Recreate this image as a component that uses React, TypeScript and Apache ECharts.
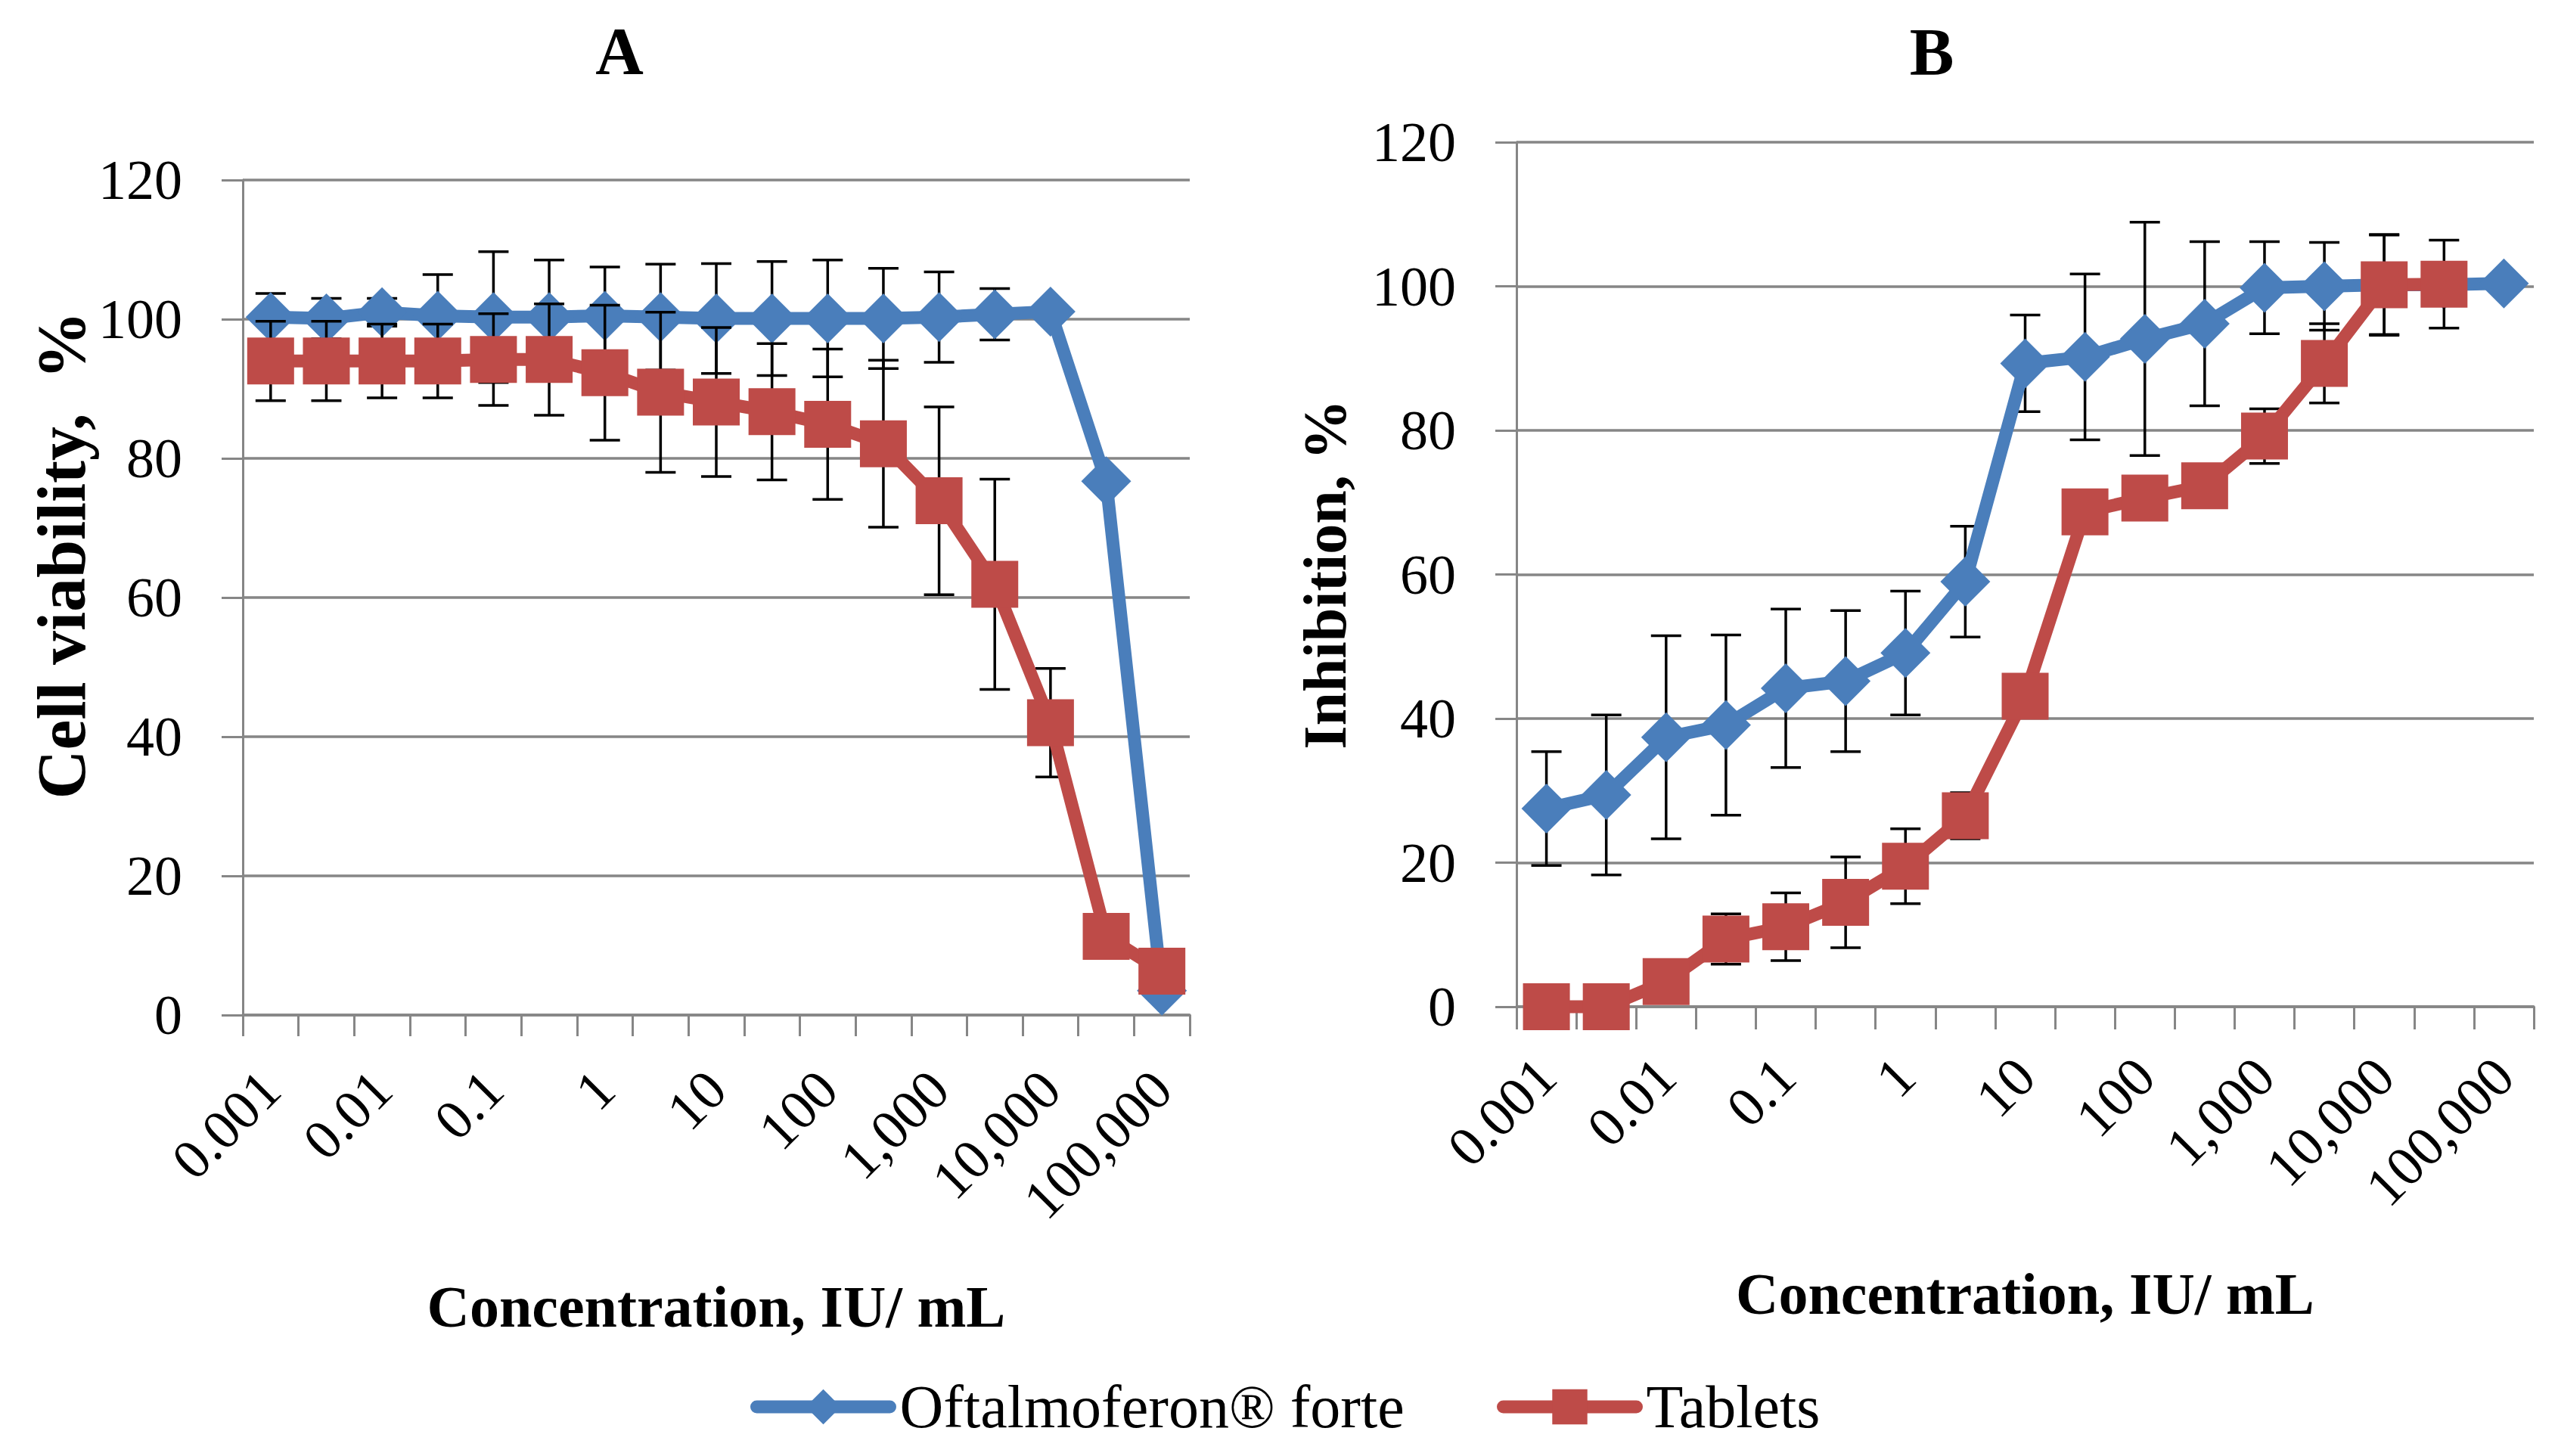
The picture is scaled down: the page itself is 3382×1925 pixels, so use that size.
import React, { useEffect, useRef } from 'react';
import * as echarts from 'echarts';

// ---------- data ----------
const categories = [
  '0.001', '0.003', '0.01', '0.03', '0.1', '0.3', '1', '3', '10', '30',
  '100', '300', '1,000', '3,000', '10,000', '30,000', '100,000',
];
const seriesNames = ['Oftalmoferon® forte', 'Tablets'];
const panelTitles = ['A', 'B'];
const yTitles = ['Cell viability,  %', 'Inhibition, %'];
const xTitle = 'Concentration, IU/ mL';

// Panel A: cell viability, %
const viabilityForte = [100.3, 100.1, 101.0, 100.5, 100.3, 100.3, 100.5, 100.3, 100.1, 100.1, 100.1, 100.1, 100.3, 100.7, 101.1, 76.7, 3.5];
const viabilityForteSd = [3.4, 2.9, 2.0, 5.9, 9.4, 8.2, 7.0, 7.6, 7.9, 8.2, 8.4, 7.2, 6.5, 3.7, 0, 0, 0];
const viabilityTablets = [94.0, 94.0, 94.0, 94.0, 94.2, 94.2, 92.3, 89.5, 88.1, 86.7, 84.9, 82.1, 73.9, 61.9, 42.0, 11.3, 6.3];
const viabilityTabletsSd = [5.7, 5.7, 5.3, 5.3, 6.6, 8.0, 9.7, 11.5, 10.7, 9.8, 10.8, 12.0, 13.5, 15.1, 7.8, 0, 0];

// Panel B: inhibition, %
const inhibitionForte = [27.5, 29.4, 37.4, 39.1, 44.2, 45.2, 49.1, 59.0, 89.3, 90.2, 92.7, 94.8, 99.8, 100.0, 100.2, 100.2, 100.4];
const inhibitionForteSd = [7.9, 11.1, 14.1, 12.5, 11.0, 9.8, 8.6, 7.7, 6.7, 11.5, 16.2, 11.4, 6.4, 6.1, 7.0, 0, 0];
const inhibitionTablets = [0, 0, 3.5, 9.4, 11.1, 14.5, 19.5, 26.5, 43.1, 68.7, 70.6, 72.3, 79.2, 89.3, 100.2, 100.3];
const inhibitionTabletsSd = [0, 0, 3.0, 3.5, 4.7, 6.3, 5.2, 3.2, 0, 0, 0, 0, 3.8, 5.5, 6.9, 6.1];

const yTicks = { min: 0, max: 120, interval: 20 };

// ---------- style ----------
const FONT = '"Liberation Serif", "Times New Roman", serif';
const BLUE = '#4A7EBB';
const RED = '#BE4B48';
const GRID_GRAY = '#868686';
const LINE_W = 17;

function errorBarSeries(values: number[], sds: number[], axisIndex: number, z: number) {
  const data = values
    .map((v, i) => [i, v, sds[i]])
    .filter((d) => d[2] > 0);
  return {
    type: 'custom',
    xAxisIndex: axisIndex,
    yAxisIndex: axisIndex,
    z,
    silent: true,
    clip: false,
    data,
    encode: { x: 0, y: 1 },
    renderItem: (params: any, api: any) => {
      const x = api.value(0);
      const v = api.value(1);
      const sd = api.value(2);
      const top = api.coord([x, v + sd]);
      const bot = api.coord([x, v - sd]);
      const hw = 20;
      const style = { stroke: '#000', lineWidth: 3.5 };
      return {
        type: 'group',
        children: [
          { type: 'line', shape: { x1: top[0], y1: top[1], x2: bot[0], y2: bot[1] }, style },
          { type: 'line', shape: { x1: top[0] - hw, y1: top[1], x2: top[0] + hw, y2: top[1] }, style },
          { type: 'line', shape: { x1: bot[0] - hw, y1: bot[1], x2: bot[0] + hw, y2: bot[1] }, style },
        ],
      };
    },
  };
}

function lineSeries(name: string, data: number[], axisIndex: number, color: string, symbol: string, size: number, z: number) {
  return {
    type: 'line',
    name,
    xAxisIndex: axisIndex,
    yAxisIndex: axisIndex,
    data,
    z,
    clip: false,
    showSymbol: true,
    showAllSymbol: true,
    symbol,
    symbolSize: size,
    lineStyle: { width: LINE_W, color, cap: 'round', join: 'round' },
    itemStyle: { color },
    emphasis: { disabled: true },
  };
}

function xAxis(gridIndex: number, tickLen: number, labelMargin: number, nameGap: number) {
  return {
    type: 'category',
    gridIndex,
    data: categories,
    boundaryGap: true,
    axisLine: { show: true, lineStyle: { color: GRID_GRAY, width: 3.5 } },
    axisTick: { show: true, interval: 0, length: tickLen, alignWithLabel: false, lineStyle: { color: GRID_GRAY, width: 3 } },
    axisLabel: {
      interval: 1,
      rotate: 45,
      margin: labelMargin,
      fontSize: 74,
      fontFamily: FONT,
      color: '#000',
    },
    splitLine: { show: false },
    name: xTitle,
    nameLocation: 'middle',
    nameGap,
    nameTextStyle: { fontSize: 78, fontWeight: 'bold', fontFamily: FONT, color: '#000' },
  };
}

function yAxis(gridIndex: number, name: string, nameGap: number, nameSize: number, namePadding: number[]) {
  return {
    type: 'value',
    gridIndex,
    min: yTicks.min,
    max: yTicks.max,
    interval: yTicks.interval,
    axisLine: { show: true, lineStyle: { color: GRID_GRAY, width: 3 } },
    axisTick: { show: true, length: 28, lineStyle: { color: GRID_GRAY, width: 3 } },
    axisLabel: { margin: 80, fontSize: 74, fontFamily: FONT, color: '#000' },
    splitLine: { show: true, lineStyle: { color: GRID_GRAY, width: 3.5 } },
    name,
    nameLocation: 'middle',
    nameRotate: 90,
    nameGap,
    nameTextStyle: { fontSize: nameSize, fontWeight: 'bold', fontFamily: FONT, color: '#000', padding: namePadding },
  };
}

function legendFor(name: string, left: number) {
  return {
    data: [name],
    left,
    top: 1815,
    orient: 'horizontal',
    itemWidth: 176,
    itemHeight: 58,
    selectedMode: false,
    lineStyle: { width: LINE_W },
    textStyle: { fontSize: 80, fontFamily: FONT, color: '#000', padding: [0, 0, 0, 8] },
  };
}

export default function App() {
  const ref = useRef<HTMLDivElement>(null);

  useEffect(() => {
    if (!ref.current) return;
    const chart = echarts.init(ref.current, undefined, { renderer: 'svg' });
    const option: any = {
      animation: false,
      backgroundColor: '#fff',
      grid: [
        { left: 321, top: 238, right: 3382 - 1573, bottom: 1925 - 1342, containLabel: false },
        { left: 2005, top: 188, right: 3382 - 3350, bottom: 1925 - 1331, containLabel: false },
      ],
      xAxis: [xAxis(0, 28, 86, 346), xAxis(1, 30, 80, 340)],
      yAxis: [
        yAxis(0, yTitles[0], 190, 90, [0, 0, 0, 112]),
        yAxis(1, yTitles[1], 213, 80, [0, 0, 0, 0]),
      ],
      legend: [legendFor(seriesNames[0], 987), legendFor(seriesNames[1], 1974)],
      graphic: [
        {
          type: 'text', x: 819, y: 67, silent: true,
          style: { text: panelTitles[0], fontSize: 88, fontWeight: 'bold', fontFamily: FONT, fill: '#000', align: 'center', verticalAlign: 'middle', textAlign: 'center', textVerticalAlign: 'middle' },
        },
        {
          type: 'text', x: 2554, y: 68, silent: true,
          style: { text: panelTitles[1], fontSize: 88, fontWeight: 'bold', fontFamily: FONT, fill: '#000', align: 'center', verticalAlign: 'middle', textAlign: 'center', textVerticalAlign: 'middle' },
        },
      ],
      series: [
        errorBarSeries(viabilityForte, viabilityForteSd, 0, 1),
        lineSeries(seriesNames[0], viabilityForte, 0, BLUE, 'diamond', 66, 2),
        errorBarSeries(viabilityTablets, viabilityTabletsSd, 0, 3),
        lineSeries(seriesNames[1], viabilityTablets, 0, RED, 'rect', 62, 4),
        errorBarSeries(inhibitionForte, inhibitionForteSd, 1, 1),
        lineSeries(seriesNames[0], inhibitionForte, 1, BLUE, 'diamond', 66, 2),
        errorBarSeries(inhibitionTablets, inhibitionTabletsSd, 1, 3),
        lineSeries(seriesNames[1], inhibitionTablets, 1, RED, 'rect', 62, 4),
      ],
    };
    chart.setOption(option);
    return () => chart.dispose();
  }, []);

  return (
    <div
      ref={ref}
      style={{ position: 'fixed', left: 0, top: 0, width: 3382, height: 1925, background: '#fff' }}
    />
  );
}
